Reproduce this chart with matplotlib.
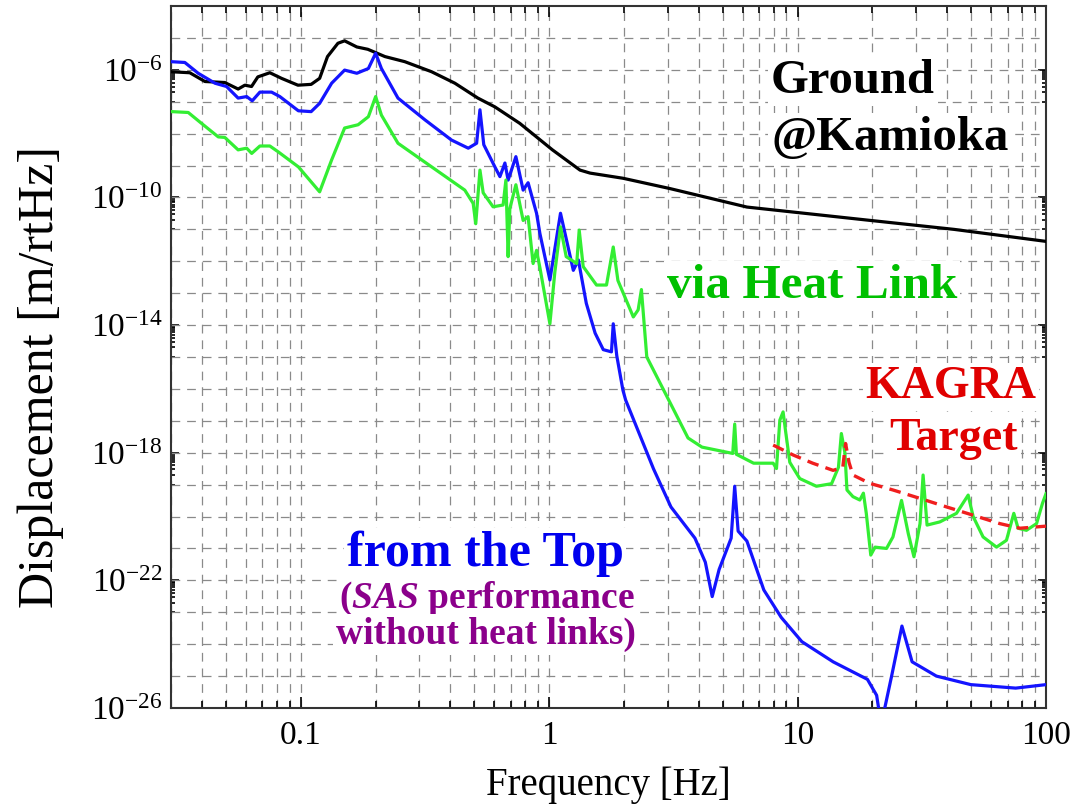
import matplotlib
matplotlib.use('Agg')
import matplotlib.pyplot as plt
from matplotlib.ticker import FixedLocator, FixedFormatter, NullFormatter

# fonts
plt.rcParams['font.family'] = 'Liberation Serif'
plt.rcParams['mathtext.fontset'] = 'custom'
plt.rcParams['mathtext.rm'] = 'Liberation Serif'
plt.rcParams['mathtext.it'] = 'Liberation Serif:italic'
plt.rcParams['mathtext.bf'] = 'Liberation Serif:bold'
plt.rcParams['mathtext.bfit'] = 'Liberation Serif:italic:bold'

# ground motion at Kamioka
ground_f = [0.030, 0.0357, 0.0411, 0.0494, 0.0559, 0.0595, 0.0633, 0.0671, 0.0750,
            0.0836, 0.0973, 0.110, 0.119, 0.128, 0.141, 0.150, 0.168, 0.186, 0.218,
            0.262, 0.336, 0.417, 0.516, 0.604, 0.761, 1.03, 1.33, 1.46, 1.98, 3.06,
            6.25, 19.7, 42.6, 100]
ground_d = [8.7e-7, 8.1e-7, 4.3e-7, 4.0e-7, 2.5e-7, 3.3e-7, 3.0e-7, 6.0e-7, 8.1e-7,
            5.4e-7, 3.3e-7, 3.5e-7, 5.4e-7, 2.6e-6, 6.8e-6, 8.1e-6, 5.2e-6, 4.4e-6, 2.6e-6,
            1.8e-6, 8.7e-7, 3.8e-7, 1.3e-7, 6.9e-8, 2.1e-8, 3.1e-9, 7.2e-10, 5.8e-10, 4.0e-10,
            1.9e-10, 5.0e-11, 1.9e-11, 1.0e-11, 4.2e-12]

# from the top (SAS only)
top_f = [0.030, 0.0341, 0.0386, 0.0451, 0.0502, 0.0559, 0.0605, 0.0637, 0.0684, 0.0762,
         0.0823, 0.0977, 0.110, 0.119, 0.133, 0.150, 0.168, 0.187, 0.200, 0.211,
         0.246, 0.316, 0.404, 0.472, 0.510, 0.526, 0.545, 0.604, 0.633, 0.663,
         0.683, 0.734, 0.785, 0.822, 0.889, 0.917, 1.006, 1.11, 1.25, 1.31,
         1.41, 1.53, 1.65, 1.78, 1.81, 1.87, 1.98, 2.03, 2.63, 3.09,
         3.86, 4.25, 4.53, 4.83, 5.40, 5.58, 5.76, 6.25, 7.31, 8.59,
         10.4, 13.9, 19.1, 20.8, 21.7, 23.9, 26.3, 28.9, 36.2, 49.8,
         75.5, 100]
top_d = [1.8e-6, 1.7e-6, 7.8e-7, 3.8e-7, 3.0e-7, 1.3e-7, 1.45e-7, 1.07e-7, 2.0e-7, 2.0e-7,
         1.45e-7, 5.2e-8, 4.9e-8, 8.9e-8, 3.8e-7, 9.8e-7, 7.8e-7, 1.1e-6, 3.3e-6, 1.1e-6,
         1.3e-7, 2.7e-8, 6.3e-9, 3.5e-9, 5.0e-9, 5.6e-8, 4.5e-9, 9.1e-10, 4.5e-10, 1.2e-9,
         3.5e-10, 1.9e-9, 1.7e-10, 2.9e-10, 3.2e-11, 7.4e-12, 2.6e-13, 3.2e-11, 5.2e-13, 1.1e-12,
         4.8e-14, 5.6e-15, 1.7e-15, 1.45e-15, 1.1e-14, 1.1e-15, 9.1e-17, 4.5e-17, 3.1e-19, 2.0e-20,
         2.1e-21, 3.7e-22, 3.1e-23, 2.2e-22, 2.1e-21, 8.9e-20, 3.5e-21, 1.7e-21, 5.0e-23, 6.9e-24,
         1.2e-24, 2.8e-25, 7.9e-26, 2.5e-26, 3e-27, 1.0e-25, 3.7e-24, 2.8e-25, 1.0e-25, 5.4e-26,
         4.2e-26, 5.4e-26]

# via heat link
link_f = [0.0302, 0.0352, 0.0398, 0.0465, 0.0494, 0.0559, 0.0605, 0.0634, 0.0684, 0.0750,
          0.0810, 0.0977, 0.119, 0.133, 0.150, 0.170, 0.187, 0.200, 0.211, 0.246,
          0.336, 0.457, 0.494, 0.506, 0.526, 0.542, 0.594, 0.652, 0.669, 0.683,
          0.694, 0.734, 0.785, 0.822, 0.861, 0.889, 0.917, 1.006, 1.053, 1.11,
          1.17, 1.29, 1.32, 1.37, 1.55, 1.70, 1.81, 1.89, 2.18, 2.28,
          2.35, 2.47, 2.97, 3.62, 4.12, 5.48, 5.58, 5.67, 6.65, 7.97,
          8.22, 8.48, 8.74, 8.97, 9.30, 10.2, 11.9, 13.7, 14.6, 15.0,
          15.5, 15.8, 16.7, 17.8, 18.4, 18.9, 19.7, 20.5, 22.8, 24.2,
          26.2, 27.9, 29.4, 31.1, 32.0, 33.2, 37.4, 43.6, 48.6, 50.9,
          55.8, 63.2, 69.3, 74.2, 77.2, 83.4, 91.6, 96.8, 100]
link_d = [4.9e-8, 4.6e-8, 2.1e-8, 7.9e-9, 7.6e-9, 3.1e-9, 3.5e-9, 2.4e-9, 4.1e-9, 4.1e-9,
          2.7e-9, 9.1e-10, 1.5e-10, 1.5e-9, 1.5e-8, 1.9e-8, 3.4e-8, 1.45e-7, 3.8e-8, 5.0e-9,
          9.1e-10, 1.7e-10, 6.5e-11, 1.5e-11, 7.2e-10, 1.4e-10, 5.1e-11, 5.8e-11, 3.5e-10, 1.4e-12,
          4.5e-11, 2.5e-10, 1.9e-11, 2.5e-11, 8.5e-13, 2.2e-12, 6.3e-13, 1.1e-14, 4.5e-13, 1.2e-11,
          1.4e-12, 8.5e-13, 9.5e-12, 6.8e-13, 1.8e-13, 1.8e-13, 2.8e-12, 2.5e-13, 1.8e-14, 3.0e-14,
          1.3e-13, 1.0e-15, 6.0e-17, 2.9e-18, 1.5e-18, 9.5e-19, 7.9e-18, 8.9e-19, 4.7e-19, 4.7e-19,
          3.2e-19, 1.05e-17, 1.9e-17, 4.0e-18, 5.0e-19, 1.55e-19, 8.9e-20, 1.07e-19, 3.5e-19, 4.0e-18,
          1.0e-18, 6.8e-20, 4.2e-20, 3.3e-20, 5.4e-20, 1.26e-20, 6.2e-22, 1.1e-21, 1.0e-21, 2.3e-21,
          3.2e-20, 2.9e-21, 5.5e-22, 6.0e-21, 2.0e-19, 5.4e-21, 6.8e-21, 1.26e-20, 4.7e-20, 1.0e-20,
          2.3e-21, 1.1e-21, 1.8e-21, 1.26e-20, 4.3e-21, 3.7e-21, 6.0e-21, 2.6e-20, 5.2e-20]

# KAGRA requirement
kagra_f = [7.97, 9.59, 11.5, 13.9, 15.2, 15.6, 16.1, 16.7, 19.5, 24.2, 31.1, 39.8,
           50.9, 65.2, 78.5, 100]
kagra_d = [1.74e-18, 8.5e-19, 4.7e-19, 2.8e-19, 3.5e-19, 1.95e-18, 5e-19, 2.0e-19, 1.1e-19,
           6.8e-20, 3.7e-20, 2.0e-20, 1.1e-20, 6.0e-21, 4.3e-21, 5.0e-21]

# ticks
x_major = [0.1, 1, 10, 100]
x_labels = ['0.1', '1', '10', '100']
x_minor = [k * d for d in (0.01, 0.1, 1, 10) for k in range(2, 10)]
y_major = [1e-26, 1e-22, 1e-18, 1e-14, 1e-10, 1e-6]
y_labels = [r'$10^{-26}$', r'$10^{-22}$', r'$10^{-18}$', r'$10^{-14}$', r'$10^{-10}$', r'$10^{-6}$']
y_minor = [k * m / 10 for m in y_major for k in range(1, 10)]
y_grid = [10.0 ** e for e in range(-25, -4)]

W, H = 1078, 811
fig = plt.figure(figsize=(W / 100, H / 100), dpi=100)
ax = fig.add_axes([171 / W, 1 - 708 / H, 875 / W, 702 / H])

grid_kw = dict(color='#8a8a8a', lw=0.9, ls=(0, (7, 5.5)))
for g in y_grid:
    ax.axhline(g, zorder=1, **grid_kw)
ax.grid(True, which='both', axis='x', **grid_kw)
ax.set_axisbelow(True)

ax.loglog(ground_f, ground_d, color='black', lw=2.3, zorder=3)
ax.loglog(top_f, top_d, color='#1414ff', lw=2.3, zorder=4)
ax.loglog(link_f, link_d, color='#33ee33', lw=2.3, zorder=5)
ax.loglog(kagra_f, kagra_d, color='#f01e1e', lw=2.4, ls=(0, (3.5, 2.2)), zorder=6)

ax.set_xlim(0.03, 100)
ax.set_ylim(1e-26, 1e-4)

ax.xaxis.set_major_locator(FixedLocator(x_major))
ax.xaxis.set_major_formatter(FixedFormatter(x_labels))
ax.xaxis.set_minor_locator(FixedLocator(x_minor))
ax.xaxis.set_minor_formatter(NullFormatter())
ax.yaxis.set_major_locator(FixedLocator(y_major))
ax.yaxis.set_major_formatter(FixedFormatter(y_labels))
ax.yaxis.set_minor_locator(FixedLocator(y_minor))
ax.yaxis.set_minor_formatter(NullFormatter())

ax.tick_params(which='both', direction='in', top=True, right=True, color='black', width=1.2)
ax.tick_params(axis='x', which='major', length=8, labelsize=24, pad=9)
ax.tick_params(axis='x', which='minor', length=5)
ax.tick_params(axis='y', which='major', length=6, labelsize=24, pad=6)
ax.tick_params(axis='y', which='minor', length=3)
for s in ax.spines.values():
    s.set_linewidth(1.5)
    s.set_color('#333333')

fig.text(608 / W, 1 - 785 / H, 'Frequency [Hz]', ha='center', va='center', fontsize=28)
fig.text(41 / W, 1 - 377 / H, 'Displacement [m/rtHz]', rotation=90,
         ha='center', va='center', fontsize=36)

# annotations
def label(px, py, s, color, size, ha='left'):
    ax.text((px - 171) / 875, (708 - py) / 702, s, transform=ax.transAxes, ha=ha,
            va='baseline', color=color, fontsize=size, fontweight='bold', zorder=7,
            bbox=dict(facecolor='white', edgecolor='none', pad=2))

label(771, 93, 'Ground', 'black', 35)
label(771, 150, '@Kamioka', 'black', 35)
label(667, 298, 'via Heat Link', '#00c000', 35.5)
label(951, 398, 'KAGRA', '#e00000', 33, 'center')
label(954, 450, 'Target', '#e00000', 33, 'center')
label(485, 566, 'from the Top', '#0000ee', 36, 'center')
label(487, 608, r'($\mathbfit{SAS}$ performance', '#8b008b', 27, 'center')
label(486, 644, 'without heat links)', '#8b008b', 27, 'center')

fig.savefig('out.png', dpi=100)
